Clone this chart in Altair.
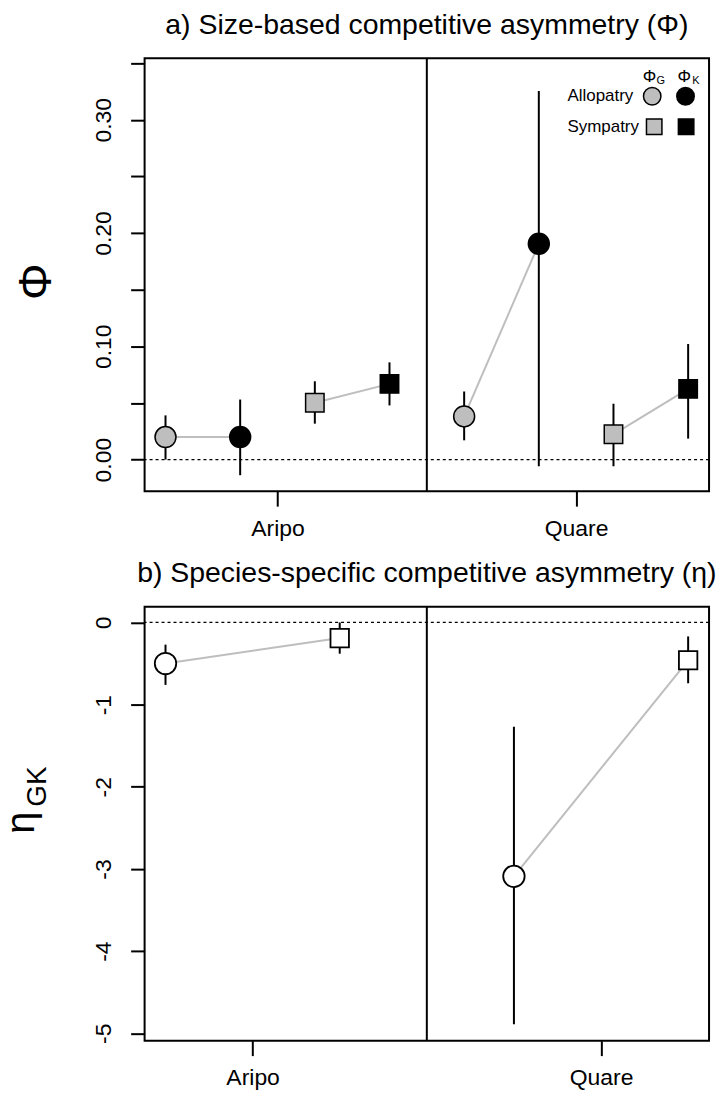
import altair as alt
import pandas as pd

# ---------------- data: panel a (size-based asymmetry, Phi) ----------------
phi_site = ["Aripo", "Aripo", "Aripo", "Aripo", "Quare", "Quare", "Quare", "Quare"]
phi_habitat = ["Allopatry", "Allopatry", "Sympatry", "Sympatry",
               "Allopatry", "Allopatry", "Sympatry", "Sympatry"]
phi_species = ["G", "K", "G", "K", "G", "K", "G", "K"]
phi_slot = [1, 2, 3, 4, 5, 6, 7, 8]
phi_est = [0.0199, 0.0199, 0.0501, 0.0668, 0.0381, 0.1905, 0.0223, 0.0624]
phi_lo = [0.0000, -0.0138, 0.0317, 0.0478, 0.0170, -0.0059, -0.0059, 0.0185]
phi_hi = [0.0390, 0.0530, 0.0691, 0.0858, 0.0601, 0.3254, 0.0493, 0.1020]

# ---------------- data: panel b (species-specific asymmetry, eta) ----------------
eta_site = ["Aripo", "Aripo", "Quare", "Quare"]
eta_habitat = ["Allopatry", "Sympatry", "Allopatry", "Sympatry"]
eta_slot = [1, 2, 3, 4]
eta_est = [-0.50, -0.19, -3.09, -0.46]
eta_lo = [-0.76, -0.38, -4.89, -0.74]
eta_hi = [-0.27, 0.00, -1.27, -0.17]

# ---------------- axes / text ----------------
site_names = ["Aripo", "Quare"]
phi_site_ticks = [2.5, 6.5]
eta_site_ticks = [1.5, 3.5]
phi_divider = [4.5]
eta_divider = [2.5]
phi_yticks = [0.0, 0.05, 0.10, 0.15, 0.20, 0.25, 0.30, 0.35]
eta_yticks = [-5, -4, -3, -2, -1, 0]
phi_xdomain = [0.72, 8.28]
eta_xdomain = [0.88, 4.12]
phi_ydomain = [-0.0279, 0.3542]
eta_ydomain = [-5.09, 0.19]

legend_rows = ["Allopatry", "Sympatry"]
title_a = "a) Size-based competitive asymmetry (Φ)"
title_b = "b) Species-specific competitive asymmetry (η)"

FONT = "Liberation Sans"
GRAY = "#BEBEBE"
W = 566
H_A = 434
H_B = 435
GAP = 116
LEFT, TOP = 144, 56
PAGE_W, PAGE_H = 726, 1103

phi_df = pd.DataFrame({
    "site": phi_site, "habitat": phi_habitat, "species": phi_species,
    "slot": phi_slot, "est": phi_est, "lo": phi_lo, "hi": phi_hi,
})
phi_df["group"] = phi_df["site"] + "-" + phi_df["habitat"]

eta_df = pd.DataFrame({
    "site": eta_site, "habitat": eta_habitat, "slot": eta_slot,
    "est": eta_est, "lo": eta_lo, "hi": eta_hi,
})


def x_enc(domain, ticks, split):
    return alt.X(
        "slot:Q",
        scale=alt.Scale(domain=domain, nice=False, zero=False),
        axis=alt.Axis(values=ticks, title=None, tickSize=15, labelPadding=29,
                      labelBaseline="alphabetic", labelFontSize=23,
                      labelExpr=f"datum.value < {split} ? '{site_names[0]}' : '{site_names[1]}'"),
    )


def sym(shape, fill, size, px, py):
    return alt.Chart(pd.DataFrame({"k": [0]})).mark_point(
        shape=shape, filled=True, fill=fill, size=size, stroke="black",
        strokeWidth=1.5, opacity=1
    ).encode(x=alt.value(px), y=alt.value(py))


def txt(label, px, py, size, align="center", baseline="alphabetic", angle=0):
    return alt.Chart(pd.DataFrame({"t": [label]})).mark_text(
        font=FONT, fontSize=size, align=align, baseline=baseline, angle=angle, color="black"
    ).encode(text="t:N", x=alt.value(px), y=alt.value(py))


# ---------------- panel a ----------------
phi_x = x_enc(phi_xdomain, phi_site_ticks, phi_divider[0])
phi_y = alt.Y(
    "est:Q",
    scale=alt.Scale(domain=phi_ydomain, nice=False, zero=False),
    axis=alt.Axis(values=phi_yticks, title=None, tickSize=14, labelAngle=270,
                  labelAlign="center", labelBaseline="alphabetic", labelPadding=20,
                  labelFontSize=23, labelOverlap=False, labelFlush=False,
                  labelExpr="abs(round(datum.value*100)) % 10 == 0 ? format(datum.value, '.2f') : ''"),
)

base_a = alt.Chart(phi_df)

# invisible frame that fixes the page bounds (page = 726 x 1103)
frame = alt.Chart(pd.DataFrame({"k": [0]})).mark_rect(opacity=0, fill="white").encode(
    x=alt.value(-LEFT), x2=alt.value(PAGE_W - LEFT),
    y=alt.value(-TOP), y2=alt.value(PAGE_H - TOP))

zero_a = alt.Chart(pd.DataFrame({"v": [0.0]})).mark_rule(
    color="black", strokeDash=[3, 3], strokeWidth=1.2
).encode(y=alt.Y("v:Q", scale=alt.Scale(domain=phi_ydomain, nice=False, zero=False)))

div_a = alt.Chart(pd.DataFrame({"d": phi_divider})).mark_rule(
    color="black", strokeWidth=2
).encode(x=alt.X("d:Q", scale=alt.Scale(domain=phi_xdomain, nice=False, zero=False)))

lines_a = base_a.mark_line(color=GRAY, strokeWidth=2).encode(
    x=phi_x, y=phi_y, detail="group:N", order="slot:Q")

bars_a = base_a.mark_rule(color="black", strokeWidth=2).encode(
    x=phi_x, y=alt.Y("lo:Q"), y2="hi:Q")

fill_a = alt.Fill("species:N", scale=alt.Scale(domain=["G", "K"], range=[GRAY, "black"]), legend=None)

circles_a = base_a.transform_filter(alt.datum.habitat == "Allopatry").mark_point(
    shape="circle", filled=True, size=441, stroke="black", strokeWidth=1.5, opacity=1
).encode(x=phi_x, y=phi_y, fill=fill_a)

squares_a = base_a.transform_filter(alt.datum.habitat == "Sympatry").mark_point(
    shape="square", filled=True, size=342, stroke="black", strokeWidth=1.5, opacity=1
).encode(x=phi_x, y=phi_y, fill=fill_a)

legend_a = [
    sym("circle", GRAY, 306, 509, 38), sym("circle", "black", 306, 542.4, 38),
    sym("square", GRAY, 240, 511, 68.6), sym("square", "black", 240, 543, 68.6),
    txt(legend_rows[0], 424, 38, 17, align="left", baseline="middle"),
    txt(legend_rows[1], 424, 68.6, 17, align="left", baseline="middle"),
    txt("Φ", 506.2, 24, 17), txt("G", 517.7, 26, 11),
    txt("Φ", 541.2, 24, 17), txt("K", 552.7, 26, 11),
]

ylab_a = txt("Φ", -93.8, 224, 46, angle=270)
ttl_a = txt(title_a, W / 2, -24.8, 28.5)

panel_a = alt.layer(
    frame, zero_a, div_a, lines_a, bars_a, circles_a, squares_a, *legend_a, ylab_a, ttl_a
).properties(width=W, height=H_A)

# ---------------- panel b ----------------
eta_x = x_enc(eta_xdomain, eta_site_ticks, eta_divider[0])
eta_y = alt.Y(
    "est:Q",
    scale=alt.Scale(domain=eta_ydomain, nice=False, zero=False),
    axis=alt.Axis(values=eta_yticks, title=None, tickSize=14, labelAngle=270,
                  labelAlign="center", labelBaseline="alphabetic", labelPadding=20,
                  labelFontSize=23, labelOverlap=False, labelFlush=False,
                  labelExpr="datum.value == 0 ? '0' : '-' + abs(datum.value)"),
)

base_b = alt.Chart(eta_df)

zero_b = alt.Chart(pd.DataFrame({"v": [0.0]})).mark_rule(
    color="black", strokeDash=[3, 3], strokeWidth=1.2
).encode(y=alt.Y("v:Q", scale=alt.Scale(domain=eta_ydomain, nice=False, zero=False)))

div_b = alt.Chart(pd.DataFrame({"d": eta_divider})).mark_rule(
    color="black", strokeWidth=2
).encode(x=alt.X("d:Q", scale=alt.Scale(domain=eta_xdomain, nice=False, zero=False)))

lines_b = base_b.mark_line(color=GRAY, strokeWidth=2).encode(
    x=eta_x, y=eta_y, detail="site:N", order="slot:Q")

bars_b = base_b.mark_rule(color="black", strokeWidth=2).encode(
    x=eta_x, y=alt.Y("lo:Q"), y2="hi:Q")

circles_b = base_b.transform_filter(alt.datum.habitat == "Allopatry").mark_point(
    shape="circle", filled=True, fill="white", size=462, stroke="black", strokeWidth=1.8, opacity=1
).encode(x=eta_x, y=eta_y)

squares_b = base_b.transform_filter(alt.datum.habitat == "Sympatry").mark_point(
    shape="square", filled=True, fill="white", size=342, stroke="black", strokeWidth=1.8, opacity=1
).encode(x=eta_x, y=eta_y)

ylab_b = [txt("η", -110.5, 216.3, 40, angle=270), txt("GK", -99.3, 180.3, 28, angle=270)]
ttl_b = txt(title_b, W / 2, -24.5, 28.5)

panel_b = alt.layer(
    zero_b, div_b, lines_b, bars_b, circles_b, squares_b, *ylab_b, ttl_b
).properties(width=W, height=H_B)

chart = alt.vconcat(panel_a, panel_b, spacing=GAP, bounds="flush").properties(
    padding=0, background="white",
).configure_view(
    stroke="black", strokeWidth=2
).configure_axis(
    domain=False, grid=False, tickColor="black", tickWidth=2,
    labelColor="black", labelFont=FONT,
)

chart.save("out.html", embed_options={"renderer": "svg", "actions": False})
